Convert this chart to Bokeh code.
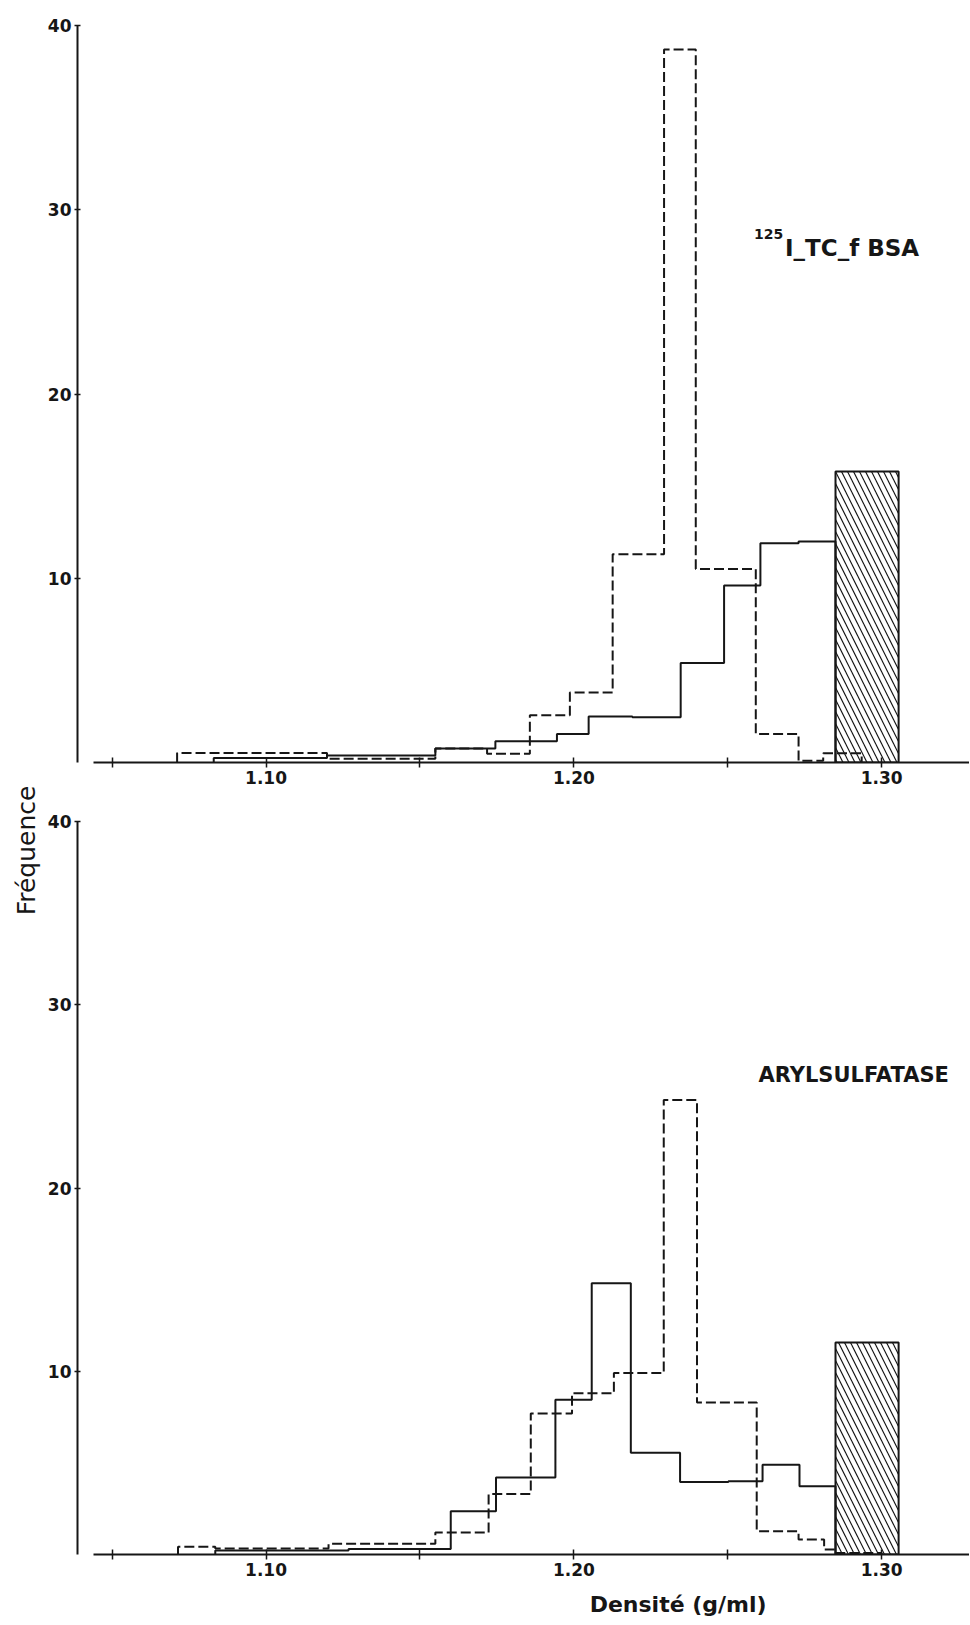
import math
from bokeh.plotting import figure
from bokeh.models import Range1d, FixedTicker, Label
from bokeh.layouts import column, row
from bokeh.core.properties import value
from bokeh.embed import file_html
from bokeh.resources import INLINE

# ---------------- data ----------------
x_ticks = [1.10, 1.20, 1.30]
x_minor_ticks = [1.05, 1.15, 1.25]
y_ticks = [10, 20, 30, 40]

# Panel 1 : 125I-TC-fBSA
bsa_solid_edges = [1.083, 1.1198, 1.155, 1.1745, 1.1945, 1.2048, 1.219, 1.2347, 1.2488, 1.2606, 1.273, 1.285]
bsa_solid_vals = [0.25, 0.38, 0.76, 1.15, 1.55, 2.5, 2.45, 5.4, 9.6, 11.9, 12.0]
bsa_dash_edges = [1.0711, 1.1198, 1.155, 1.1718, 1.1857, 1.1987, 1.2126, 1.2293, 1.2396, 1.2591, 1.273, 1.281, 1.2935]
bsa_dash_vals = [0.52, 0.2, 0.76, 0.47, 2.57, 3.8, 11.3, 38.7, 10.5, 1.55, 0.1, 0.5]
bsa_bar_left, bsa_bar_right, bsa_bar_top = [1.285], [1.3055], [15.8]

# Panel 2 : Arylsulfatase
ars_solid_edges = [1.0835, 1.1268, 1.160, 1.1747, 1.194, 1.2058, 1.2185, 1.2345, 1.2502, 1.2613, 1.2733, 1.285]
ars_solid_vals = [0.22, 0.3, 2.36, 4.2, 8.45, 14.8, 5.55, 3.95, 4.0, 4.9, 3.73]
ars_dash_edges = [1.0714, 1.0835, 1.1203, 1.155, 1.1723, 1.186, 1.1994, 1.213, 1.2292, 1.24, 1.2594, 1.273, 1.2813, 1.285, 1.30]
ars_dash_vals = [0.42, 0.33, 0.58, 1.2, 3.3, 7.7, 8.8, 9.9, 24.8, 8.3, 1.27, 0.82, 0.27, 0.08]
ars_bar_left, ars_bar_right, ars_bar_top = [1.285], [1.3055], [11.57]

# ---------------- styling / layout ----------------
X0, X1 = 1.03874, 1.32853
AXIS_START = 1.04392
FONT = "DejaVu Sans"
INK = "#161616"
LEFT_W = 44
PANEL_W = 925

x_range = Range1d(X0, X1)


def make_panel(height, border_top, border_bottom):
    p = figure(width=PANEL_W, height=height,
               x_range=x_range, y_range=Range1d(0, 40),
               output_backend="svg", toolbar_location=None,
               min_border_left=31, min_border_right=0,
               min_border_top=border_top, min_border_bottom=border_bottom)
    p.outline_line_color = None
    p.grid.visible = False
    p.background_fill_color = "white"
    p.border_fill_color = "white"

    xa = p.xaxis[0]
    xa.ticker = FixedTicker(ticks=x_ticks, minor_ticks=x_minor_ticks)
    xa.bounds = (AXIS_START, X1)
    xa.axis_line_width = 2
    xa.axis_line_color = INK
    xa.major_tick_in = 5
    xa.major_tick_out = 5
    xa.minor_tick_in = 5
    xa.minor_tick_out = 5
    xa.major_tick_line_width = 1.5
    xa.minor_tick_line_width = 1.5
    xa.major_tick_line_color = INK
    xa.minor_tick_line_color = INK
    xa.major_label_standoff = 3
    xa.major_label_overrides = {1.1: "1.10", 1.2: "1.20", 1.3: "1.30"}

    ya = p.yaxis[0]
    ya.ticker = FixedTicker(ticks=y_ticks, minor_ticks=[])
    ya.axis_line_width = 2
    ya.axis_line_color = INK
    ya.major_tick_in = 3
    ya.major_tick_out = 3
    ya.major_tick_line_width = 1.5
    ya.major_tick_line_color = INK
    ya.major_label_standoff = 3

    for ax in (xa, ya):
        ax.major_label_text_font = FONT
        ax.major_label_text_font_style = "bold"
        ax.major_label_text_font_size = "17px"
        ax.major_label_text_color = INK
    return p


def bare_figure(width, height, xr, yr, border_left=0):
    f = figure(width=width, height=height, x_range=xr, y_range=yr,
               output_backend="svg", toolbar_location=None,
               x_axis_location=None, y_axis_location=None,
               min_border_left=border_left, min_border_right=0,
               min_border_top=0, min_border_bottom=0)
    f.outline_line_color = None
    f.grid.visible = False
    f.background_fill_color = "white"
    f.border_fill_color = "white"
    return f


def step_xy(edges, vals):
    xs = [edges[0]] + list(edges)
    ys = [0] + list(vals) + [0]
    return xs, ys


def draw(p, solid_e, solid_v, dash_e, dash_v, bl, br, bt):
    xs, ys = step_xy(dash_e, dash_v)
    p.step(xs, ys, mode="after", line_color=INK, line_width=2, line_dash="10 4")
    xs, ys = step_xy(solid_e, solid_v)
    p.step(xs, ys, mode="after", line_color=INK, line_width=2)
    p.quad(left=bl, right=br, bottom=[0] * len(bt), top=bt,
           fill_color="white", fill_alpha=0.0,
           hatch_pattern="\\", hatch_color=INK, hatch_scale=12, hatch_weight=1.2,
           line_color=INK, line_width=2)


# top panel
H1 = 793
p1 = make_panel(H1, 25, 31)
draw(p1, bsa_solid_edges, bsa_solid_vals, bsa_dash_edges, bsa_dash_vals,
     bsa_bar_left, bsa_bar_right, bsa_bar_top)
p1.add_layout(Label(x=1.2585, y=28.71, text="125", text_font=FONT, text_font_style="bold",
                    text_font_size="14px", text_color=INK, text_align="left",
                    text_baseline="alphabetic"))
p1.add_layout(Label(x=1.2686, y=27.95, text="I_TC_f BSA", text_font=FONT, text_font_style="bold",
                    text_font_size="23px", text_color=INK, text_align="left",
                    text_baseline="alphabetic"))

# bottom panel
H2 = 792
p2 = make_panel(H2, 28, 31)
draw(p2, ars_solid_edges, ars_solid_vals, ars_dash_edges, ars_dash_vals,
     ars_bar_left, ars_bar_right, ars_bar_top)
p2.add_layout(Label(x=1.2909, y=26.15, text="ARYLSULFATASE", text_font=FONT, text_font_style="bold",
                    text_font_size="21px", text_color=INK, text_align="center",
                    text_baseline="alphabetic"))

# x-axis title strip (shares the x scale of the panels)
H3 = 39
p3 = bare_figure(PANEL_W, H3, x_range, Range1d(0, H3), border_left=31)
p3.text(x=[1.23387], y=[20], text=["Densité (g/ml)"], text_font=value(FONT),
        text_font_style="bold", text_font_size="22px", text_color=INK,
        text_align="center", text_baseline="middle")

# y-axis title strip spanning both panels
HT = H1 + H2 + H3
p0 = bare_figure(LEFT_W, HT, Range1d(0, LEFT_W), Range1d(0, HT))
p0.text(x=[26], y=[HT - 850], text=["Fréquence"], angle=math.pi / 2,
        text_font=value(FONT), text_font_size="25px", text_color=INK,
        text_align="center", text_baseline="middle")

layout = row(p0, column(p1, p2, p3, spacing=0), spacing=0)
open("out.html", "w").write(file_html(layout, INLINE))
